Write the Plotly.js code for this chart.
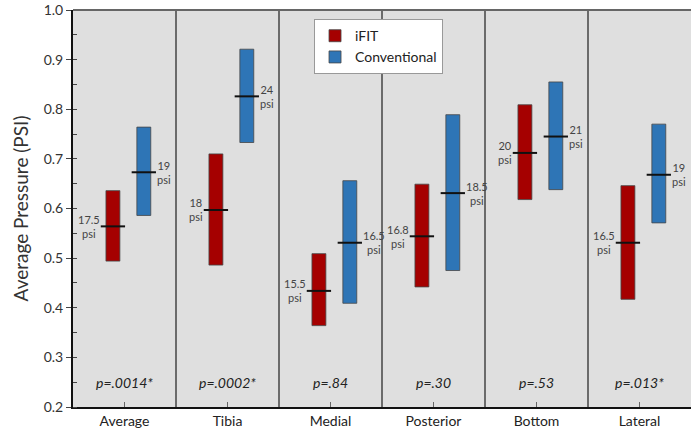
<!DOCTYPE html>
<html>
<head>
<meta charset="utf-8">
<script src="https://cdn.plot.ly/plotly-3.0.1.min.js"></script>
<style>html,body{margin:0;padding:0;background:#fff;}#chart{width:693px;height:429px;}</style>
</head>
<body>
<div id="chart"></div>
<script>
const categories = ['Average', 'Tibia', 'Medial', 'Posterior', 'Bottom', 'Lateral'];
const ifitLow    = [0.494, 0.486, 0.364, 0.442, 0.618, 0.417];
const ifitHigh   = [0.636, 0.710, 0.509, 0.649, 0.809, 0.646];
const ifitMedian = [0.564, 0.597, 0.434, 0.544, 0.712, 0.531];
const convLow    = [0.586, 0.733, 0.409, 0.475, 0.638, 0.571];
const convHigh   = [0.764, 0.921, 0.656, 0.789, 0.855, 0.770];
const convMedian = [0.673, 0.826, 0.531, 0.631, 0.745, 0.668];
const ifitLabels = ['17.5', '18', '15.5', '16.8', '20', '16.5'];
const convLabels = ['19', '24', '16.5', '18.5', '21', '19'];
const pValues    = ['p=.0014*', 'p=.0002*', 'p=.84', 'p=.30', 'p=.53', 'p=.013*'];

const FONT = 'Lato, "Open Sans", sans-serif';
const idx = categories.map((c, i) => i);
const barW = 0.135, redOff = -0.18, blueOff = 0.12, halfLine = 0.118;
const redC = idx.map(i => i + redOff + barW / 2);
const blueC = idx.map(i => i + blueOff + barW / 2);

const traces = [
  {type: 'bar', name: 'iFIT', x: idx, base: ifitLow, y: ifitHigh.map((h, i) => h - ifitLow[i]),
   width: barW, offset: redOff, marker: {color: '#a50000', line: {color: 'rgba(70,70,70,0.8)', width: 1}}, hoverinfo: 'skip'},
  {type: 'bar', name: 'Conventional', x: idx, base: convLow, y: convHigh.map((h, i) => h - convLow[i]),
   width: barW, offset: blueOff, marker: {color: '#2e75b6', line: {color: 'rgba(70,70,70,0.8)', width: 1}}, hoverinfo: 'skip'}
];
const mx = [], my = [];
idx.forEach(i => {
  mx.push(redC[i] - halfLine, redC[i] + halfLine, null, blueC[i] - halfLine, blueC[i] + halfLine, null);
  my.push(ifitMedian[i], ifitMedian[i], null, convMedian[i], convMedian[i], null);
});
traces.push({type: 'scatter', mode: 'lines', x: mx, y: my, line: {color: '#111', width: 2}, showlegend: false, hoverinfo: 'skip'});

const annotations = [];
idx.forEach(i => {
  annotations.push({x: redC[i] - halfLine, y: ifitMedian[i], xref: 'x', yref: 'y', text: ifitLabels[i] + '<br>psi',
    showarrow: false, xanchor: 'right', yanchor: 'middle', align: 'center', xshift: 1,
    font: {family: FONT, size: 11, color: '#444'}});
  annotations.push({x: blueC[i] + halfLine, y: convMedian[i], xref: 'x', yref: 'y', text: convLabels[i] + '<br>psi',
    showarrow: false, xanchor: 'left', yanchor: 'middle', align: 'center', xshift: -1,
    font: {family: FONT, size: 11, color: '#444'}});
  annotations.push({x: i, y: 0.25, xref: 'x', yref: 'y', text: '<i>' + pValues[i] + '</i>',
    showarrow: false, xanchor: 'center', yanchor: 'middle', font: {family: FONT, size: 14, color: '#222'}});
});

const shapes = [];
for (let i = 0; i < categories.length - 1; i++) {
  shapes.push({type: 'line', xref: 'x', yref: 'paper', x0: i + 0.5, x1: i + 0.5, y0: 0, y1: 1, line: {color: '#444', width: 1.5}, layer: 'below'});
}
shapes.push({type: 'line', xref: 'paper', yref: 'paper', x0: 0, x1: 1, y0: 1, y1: 1, line: {color: '#666', width: 2}, layer: 'above'});

const layout = {
  width: 693, height: 429,
  margin: {l: 73, r: 2, t: 10, b: 22},
  paper_bgcolor: '#ffffff', plot_bgcolor: '#dfdfdf',
  font: {family: FONT, color: '#333'},
  barmode: 'overlay',
  showlegend: true,
  legend: {x: 0.39, y: 0.977, xanchor: 'left', yanchor: 'top', bgcolor: '#ffffff', bordercolor: '#999', borderwidth: 1,
           font: {family: FONT, size: 14, color: '#222'}, itemwidth: 30, tracegroupgap: 0},
  xaxis: {range: [-0.5, categories.length - 0.5], tickvals: idx, ticktext: categories, showgrid: false, zeroline: false,
          showline: true, linecolor: '#111', linewidth: 2, ticks: 'inside', ticklen: 5, tickcolor: '#666',
          tickfont: {family: FONT, size: 14, color: '#222'}, fixedrange: true},
  yaxis: {range: [0.2, 1.0], dtick: 0.1, tickformat: '.1f', showgrid: false, zeroline: false,
          showline: true, linecolor: '#111', linewidth: 2, ticks: 'outside', ticklen: 5, tickcolor: '#444',
          minor: {dtick: 0.05, ticks: 'inside', ticklen: 4, tickcolor: '#444', showgrid: false},
          tickfont: {family: FONT, size: 14, color: '#333'},
          title: {text: 'Average Pressure (PSI)', font: {family: FONT, size: 19, color: '#333'}, standoff: 10}},
  annotations: annotations,
  shapes: shapes
};
Plotly.newPlot('chart', traces, layout, {staticPlot: true, displayModeBar: false});
</script>
</body>
</html>
